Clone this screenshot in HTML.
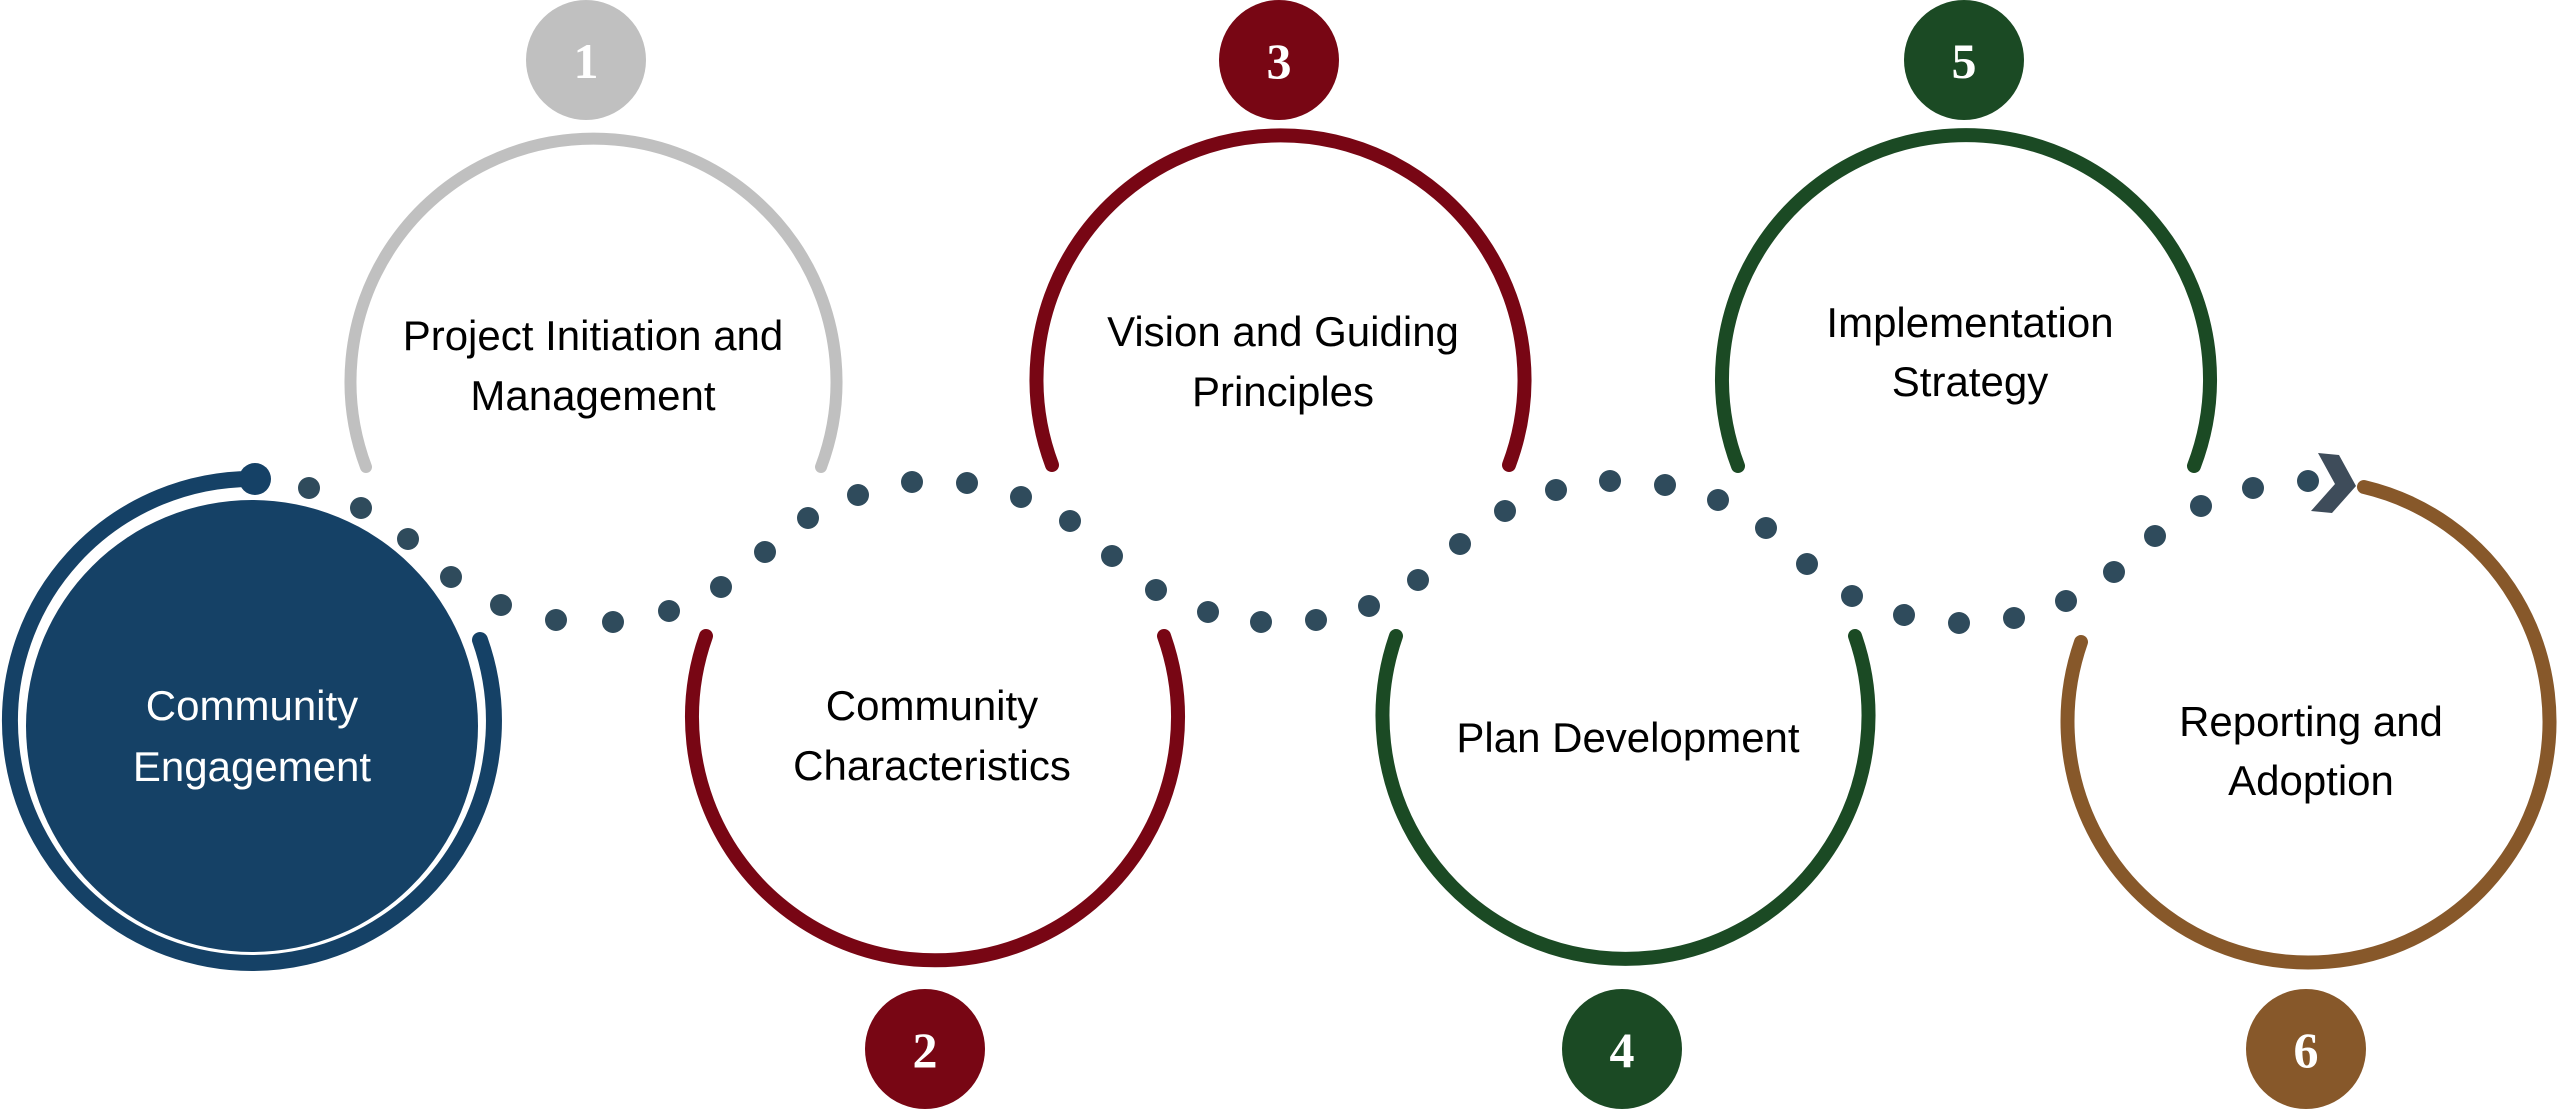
<!DOCTYPE html>
<html><head><meta charset="utf-8"><style>
html,body{margin:0;padding:0;background:#fff;}
svg{display:block;}
text{font-family:"Liberation Sans",sans-serif;font-size:42px;}
.n{font-family:"Liberation Serif",serif;font-weight:bold;font-size:50px;fill:#fff;}
</style></head><body>
<svg width="2560" height="1109" viewBox="0 0 2560 1109" xmlns="http://www.w3.org/2000/svg">
<!-- Community Engagement -->
<circle cx="252" cy="726" r="226" fill="#154166"/>
<path d="M255,479 A242,242 0 1 0 480,640" fill="none" stroke="#154166" stroke-width="16" stroke-linecap="round"/>
<circle cx="255" cy="479" r="16" fill="#154166"/>
<text x="252" y="720" text-anchor="middle" fill="#fff">Community</text>
<text x="252" y="781" text-anchor="middle" fill="#fff">Engagement</text>

<!-- top arcs -->
<path d="M366,467 A243,243 0 1 1 821,467" fill="none" stroke="#c0c0c0" stroke-width="12" stroke-linecap="round"/>
<path d="M1052,465 A244,244 0 1 1 1509,465" fill="none" stroke="#780614" stroke-width="14" stroke-linecap="round"/>
<path d="M1738,466 A244,244 0 1 1 2194,466" fill="none" stroke="#1b4a24" stroke-width="14" stroke-linecap="round"/>
<!-- bottom arcs -->
<path d="M706,636 A243,243 0 1 0 1164,636" fill="none" stroke="#780614" stroke-width="14" stroke-linecap="round"/>
<path d="M1396,636 A243,243 0 1 0 1855,636" fill="none" stroke="#1b4a24" stroke-width="14" stroke-linecap="round"/>
<path d="M2364,487 A241,241 0 1 1 2081,642" fill="none" stroke="#87582a" stroke-width="14" stroke-linecap="round"/>

<!-- badges -->
<circle cx="586" cy="60" r="60" fill="#c0c0c0"/><text class="n" x="586" y="78" text-anchor="middle">1</text>
<circle cx="1279" cy="60" r="60" fill="#780614"/><text class="n" x="1279" y="78" text-anchor="middle">3</text>
<circle cx="1964" cy="60" r="60" fill="#1b4a24"/><text class="n" x="1964" y="78" text-anchor="middle">5</text>
<circle cx="925" cy="1049" r="60" fill="#780614"/><text class="n" x="925" y="1067" text-anchor="middle">2</text>
<circle cx="1622" cy="1049" r="60" fill="#1b4a24"/><text class="n" x="1622" y="1067" text-anchor="middle">4</text>
<circle cx="2306" cy="1049" r="60" fill="#87582a"/><text class="n" x="2306" y="1067" text-anchor="middle">6</text>

<!-- labels -->
<text x="593" y="350" text-anchor="middle" fill="#000">Project Initiation and</text>
<text x="593" y="410" text-anchor="middle" fill="#000">Management</text>
<text x="1283" y="346" text-anchor="middle" fill="#000">Vision and Guiding</text>
<text x="1283" y="406" text-anchor="middle" fill="#000">Principles</text>
<text x="1970" y="337" text-anchor="middle" fill="#000">Implementation</text>
<text x="1970" y="396" text-anchor="middle" fill="#000">Strategy</text>
<text x="932" y="720" text-anchor="middle" fill="#000">Community</text>
<text x="932" y="780" text-anchor="middle" fill="#000">Characteristics</text>
<text x="1628" y="752" text-anchor="middle" fill="#000">Plan Development</text>
<text x="2311" y="736" text-anchor="middle" fill="#000">Reporting and</text>
<text x="2311" y="795" text-anchor="middle" fill="#000">Adoption</text>

<!-- dots -->
<g fill="#2f4b5c">
<circle cx="309" cy="488" r="11"/><circle cx="361" cy="508" r="11"/><circle cx="408" cy="539" r="11"/>
<circle cx="451" cy="577" r="11"/><circle cx="501" cy="605" r="11"/><circle cx="556" cy="620" r="11"/>
<circle cx="613" cy="622" r="11"/><circle cx="669" cy="611" r="11"/><circle cx="721" cy="587" r="11"/>
<circle cx="765" cy="552" r="11"/><circle cx="808" cy="518" r="11"/><circle cx="858" cy="495" r="11"/>
<circle cx="912" cy="482" r="11"/><circle cx="967" cy="483" r="11"/><circle cx="1021" cy="497" r="11"/>
<circle cx="1070" cy="521" r="11"/><circle cx="1112" cy="556" r="11"/><circle cx="1156" cy="590" r="11"/>
<circle cx="1208" cy="612" r="11"/><circle cx="1261" cy="622" r="11"/><circle cx="1316" cy="620" r="11"/>
<circle cx="1369" cy="606" r="11"/><circle cx="1418" cy="580" r="11"/><circle cx="1460" cy="544" r="11"/>
<circle cx="1505" cy="511" r="11"/><circle cx="1556" cy="490" r="11"/><circle cx="1610" cy="481" r="11"/>
<circle cx="1665" cy="485" r="11"/><circle cx="1718" cy="500" r="11"/><circle cx="1766" cy="528" r="11"/>
<circle cx="1807" cy="564" r="11"/><circle cx="1852" cy="596" r="11"/><circle cx="1904" cy="615" r="11"/>
<circle cx="1959" cy="623" r="11"/><circle cx="2014" cy="618" r="11"/><circle cx="2066" cy="601" r="11"/>
<circle cx="2114" cy="572" r="11"/><circle cx="2155" cy="536" r="11"/><circle cx="2201" cy="506" r="11"/>
<circle cx="2253" cy="488" r="11"/><circle cx="2308" cy="481" r="11"/>
</g>
<polygon points="2318,453 2339,455 2356,486 2332,513 2311,511 2335,484" fill="#3e4c5a"/>
</svg>
</body></html>
